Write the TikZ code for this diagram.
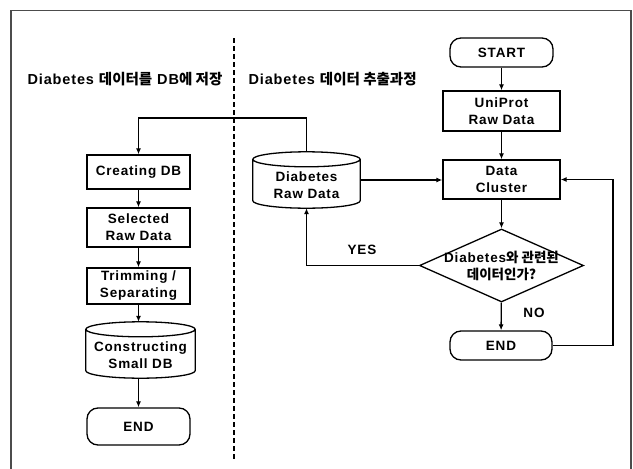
\documentclass[tikz,border=0pt]{standalone}
\usepackage{fontspec}
\setmainfont{Liberation Sans}[LetterSpace=6]
\newfontfamily\krfont{Noto Sans CJK KR}
\usetikzlibrary{arrows.meta,shapes.geometric,calc}
\newcommand\hg[1]{{\krfont #1}}
\newcommand\boxfont{\fontsize{13.5}{17}\selectfont\bfseries}

\tikzset{
  line/.style={line width=1.3pt},
  arr/.style={line, -{Latex[length=6pt,width=5pt]}},
  box/.style={draw, line, inner sep=0pt, align=center, font=\boxfont},
  term/.style={box, rounded corners=11pt},
  dbbody/.style={inner sep=0pt, font=\boxfont},
  dbtext/.style={align=center, font=\boxfont, yshift=-5pt},
  decision/.style={diamond, draw, line, inner sep=0pt, font=\boxfont},
  heading/.style={anchor=west, font=\fontsize{14.5}{16}\selectfont\bfseries},
  lbl/.style={font=\fontsize{13.5}{16}\selectfont\bfseries},
  divider/.style={line width=1.1pt, dash pattern=on 5pt off 3pt},
  frame/.style={line width=1.4pt, draw=black!70}
}

% outline of a database drum around a named node
\newcommand\dbdraw[1]{%
  \draw[line] let \p1=(#1.north west), \p2=(#1.south east), \n1={(\x2-\x1)/2} in
    (\x1,\y1-7.5pt) -- (\x1,\y2+7.5pt)
    arc[start angle=180, end angle=360, x radius=\n1, y radius=7.5pt]
    -- (\x2,\y1-7.5pt)
    arc[start angle=0, end angle=360, x radius=\n1, y radius=7.5pt];}

\begin{document}
\begin{tikzpicture}[x=1pt, y=1pt]
\useasboundingbox (0,0) rectangle (633,-469);
\fill[white] (0,0) rectangle (633,-469);

% page frame, open at the bottom
\draw[frame] (11,-469) -- (11,-10.5) -- (631,-10.5) -- (631,-469);

% divider between the two procedures
\draw[divider] (234,-38) -- (234,-459);

% headings
\node[heading] (hleft) at (24,-79) {Diabetes \hg{데이터를} DB\hg{에 저장}};
\node[heading] (hright) at (245,-79) {Diabetes \hg{데이터 추출과정}};

% extraction procedure
\node[term, minimum width=103pt, minimum height=29pt] (start) at (501.5,-52.5) {START};
\node[box, minimum width=117pt, minimum height=40pt] (uni) at (501.5,-111) {UniProt\\Raw Data};
\node[box, minimum width=117pt, minimum height=39pt] (cluster) at (501.5,-179.5) {Data\\Cluster};
\node[decision, minimum width=164pt, minimum height=73pt, aspect=2.25] (dec) at (501.5,-265.5) {};
\node[font=\boxfont, align=center] (dectext) at (dec.center) {Diabetes\hg{와 관련된}\\\hg{데이터인가?}};
\node[term, minimum width=102pt, minimum height=29pt] (endR) at (501,-345.5) {END};
\node[dbbody, minimum width=107pt, minimum height=56pt] (raw) at (306.5,-180) {};
\node[dbtext] (rawtext) at (raw.center) {Diabetes\\Raw Data};
\dbdraw{raw}

% storage procedure
\node[box, minimum width=103pt, minimum height=34pt] (create) at (138.5,-172) {Creating DB};
\node[box, minimum width=103pt, minimum height=39pt] (sel) at (138.5,-227.5) {Selected\\Raw Data};
\node[box, minimum width=103pt, minimum height=36pt] (trim) at (138.5,-286) {Trimming /\\Separating};
\node[dbbody, minimum width=109pt, minimum height=56pt] (cons) at (140.5,-350) {};
\node[dbtext] (constext) at (cons.center) {Constructing\\Small DB};
\dbdraw{cons}
\node[term, minimum width=103pt, minimum height=37pt] (endL) at (138.5,-426.5) {END};

% connectors
\coordinate (bend) at (138.5,-118);
\coordinate (loop) at (613,-345.5);
\draw[arr] (start) -- (uni);
\draw[arr] (uni) -- (cluster);
\draw[arr] (cluster) -- (dec);
\draw[arr] (dec) -- (endR);
\draw[arr] (raw.east) -- (raw.east -| cluster.west);
\draw[arr] (dec.west) -| (raw.south);
\draw[arr] (endR.east) -- (loop) |- (cluster.east);
\draw[arr] (raw.north) |- (bend) -- (create.north);
\draw[arr] (create) -- (sel);
\draw[arr] (sel) -- (trim);
\draw[arr] (trim.south) -- (trim.south |- cons.north);
\draw[arr] (endL.north |- cons.south) -- (endL.north);

% branch labels
\node[lbl] (yes) at (362,-250) {YES};
\node[lbl] (no) at (534,-313) {NO};
\end{tikzpicture}
\end{document}
